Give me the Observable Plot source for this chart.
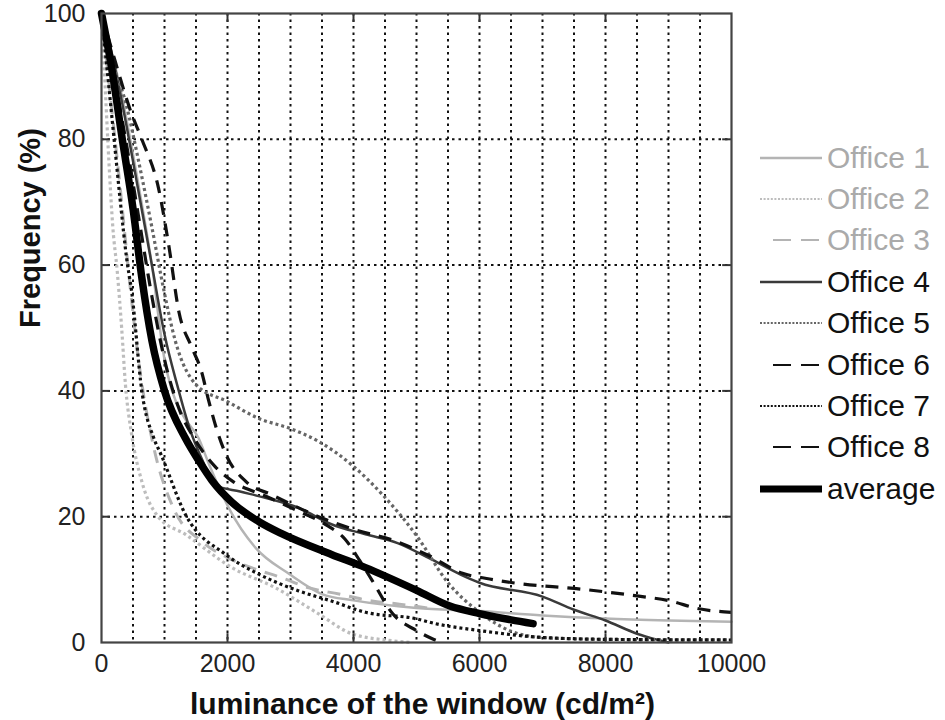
<!DOCTYPE html>
<html>
<head>
<meta charset="utf-8">
<script src="https://cdn.jsdelivr.net/npm/d3@7"></script>
<script src="https://cdn.jsdelivr.net/npm/@observablehq/plot@0.6"></script>
<style>
  html, body { margin: 0; padding: 0; background: #fff; }
  #wrap { position: relative; width: 945px; height: 720px; font-family: "Liberation Sans", Arial, Helvetica, sans-serif; }
  #chart svg { overflow: visible; }
  #legend { position: absolute; left: 758px; top: 137px; }
  .row { display: flex; align-items: center; height: 41.4px; font-size: 30px; }
  .row svg { width: 66px; height: 20px; margin-right: 3px; }
</style>
</head>
<body>
<div id="wrap">
  <div id="chart"></div>
  <div id="legend"></div>
</div>
<script>
// ---- data ----
const seriesNames = ["Office 1","Office 2","Office 3","Office 4","Office 5","Office 6","Office 7","Office 8","average"];

const office1X = [0,300,600,800,1000,1120,1300,1540,1700,1850,2020,2450,2980,3500,4000,5000,6000,7000,8000,9000,10000];
const office1Y = [100,88,72,60,45,40,36,32.5,28.5,25,21.4,15,10.9,7.7,6.7,5.5,5,4.3,3.8,3.5,3.3];

const office2X = [0,60,120,180,250,320,380,480,640,900,1330,2070,2760,3440,3970,4600,4900];
const office2Y = [100,88,76,66,59,50,41,33,25.6,20,17.2,11.9,8.7,4.6,1.4,0.3,0];

const office3X = [0,150,300,450,600,830,1140,1600,2000,2380,2860,3290,3770,4290,4730,5300];
const office3Y = [100,86,72,57,44,31,21.4,16,13.5,11.9,10.3,8.7,7.7,6.6,6.1,5.3];

const office4X = [0,200,400,600,800,1000,1200,1400,1600,1810,2200,2600,3130,3650,4190,4700,5200,5700,6000,7000,7500,8000,8500,8800,9000];
const office4Y = [100,92,82,71,60,49,41,34,29,25,24,23,21.4,18.8,17.2,15.8,13.4,10.8,9.5,7.3,5.2,3.5,1.4,0.5,0];

const office5X = [0,150,380,600,800,990,1170,1500,2000,2500,3000,3440,4000,4460,5000,5500,6000,6500,7000,8000,10000];
const office5Y = [100,93,86,76,66,56,48,41,38.3,35.6,34,32,28,23.5,17,9.5,4.8,1.8,0.8,0.5,0.4];

const office6X = [0,200,400,600,800,1000,1200,1500,1800,2100,2600,3100,3600,3860,4100,4300,4620,5000,5250,5400];
const office6Y = [100,90,79,67,55,45,38,32,28,25.5,23.3,21,18.5,16.5,13,9.8,4.6,1.9,0.6,0];

const office7X = [0,100,200,300,400,480,640,830,940,1330,1970,2490,3130,3650,4190,4980,5300,6000,7000,8000,10000];
const office7Y = [100,90,80,70,61,55.7,40,32.5,30,20.4,14,10.9,8.2,6.6,4.8,3.8,3,1.9,0.8,0.5,0.4];

const office8X = [0,200,480,640,910,1070,1230,1430,1590,1700,1810,1970,2290,2700,3570,4000,4700,5200,5730,6160,6530,7600,8500,9030,9460,10000];
const office8Y = [100,93,84,80,72,63,52.5,47,43,38.5,34.5,30,25.6,23.5,19.5,18,16,13.8,11,10.1,9.5,8.5,7.4,6.6,5.4,4.8];

const averageX = [0,150,330,500,640,800,1000,1330,1550,1750,2070,2500,2860,3650,4190,5000,5530,6000,6500,6850];
const averageY = [100,92,80,69,58,48,40,32.5,28.8,25.8,22.3,19.2,17.3,14,11.9,8.3,5.8,4.6,3.6,3];

const xTicks = [0,2000,4000,6000,8000,10000];
const yTicks = [0,20,40,60,80,100];
const gridX = [500,1000,1500,2000,2500,3000,3500,4000,4500,5000,5500,6000,6500,7000,7500,8000,8500,9000,9500];
const gridY = [20,40,60,80];
const innerX = [2000,4000,6000,8000];
const innerY = [20,40,60,80];

const xTitle = "luminance of the window (cd/m²)";
const yTitle = "Frequency (%)";

// ---- build table ----
const xs = [office1X,office2X,office3X,office4X,office5X,office6X,office7X,office8X,averageX];
const ys = [office1Y,office2Y,office3Y,office4Y,office5Y,office6Y,office7Y,office8Y,averageY];
const rows = [];
seriesNames.forEach((s, i) => xs[i].forEach((x, j) => rows.push({series: s, x, y: ys[i][j]})));

const LIGHT = "#b4b4b4";
const DOT = "3,3";
const DASH = "13,9";
const styles = {
  "Office 1": {stroke: LIGHT, strokeWidth: 2.5, dash: null},
  "Office 2": {stroke: "#bdbdbd", strokeWidth: 3.2, dash: DOT},
  "Office 3": {stroke: LIGHT, strokeWidth: 3, dash: DASH},
  "Office 4": {stroke: "#3a3a3a", strokeWidth: 2.5, dash: null},
  "Office 5": {stroke: "#666", strokeWidth: 3.2, dash: DOT},
  "Office 6": {stroke: "#111", strokeWidth: 3.2, dash: DASH},
  "Office 7": {stroke: "#111", strokeWidth: 3.2, dash: DOT},
  "Office 8": {stroke: "#111", strokeWidth: 3.2, dash: DASH},
  "average":  {stroke: "#000", strokeWidth: 7.5, dash: null}
};

const lineMarks = seriesNames.map(s => Plot.line(rows.filter(r => r.series === s), {
  x: "x", y: "y", curve: "monotone-x",
  stroke: styles[s].stroke, strokeWidth: styles[s].strokeWidth,
  strokeDasharray: styles[s].dash || undefined, strokeLinejoin: "round", strokeLinecap: styles[s].dash ? "butt" : "round"
}));

const gridStyle = {stroke: "#111", strokeWidth: 2, strokeDasharray: "2.5,4"};
const tickStyle = {stroke: "#333", strokeWidth: 2};

const chart = Plot.plot({
  width: 945,
  height: 720,
  marginLeft: 101,
  marginRight: 214,
  marginTop: 13,
  marginBottom: 78,
  style: {fontFamily: '"Liberation Sans", Arial, Helvetica, sans-serif', fontSize: "25px", color: "#222", background: "#fff", overflow: "visible"},
  x: {domain: [0, 10000], label: null},
  y: {domain: [0, 100], label: null},
  marks: [
    Plot.ruleX(gridX, gridStyle),
    Plot.ruleY(gridY, gridStyle),
    ...lineMarks,
    Plot.ruleX(innerX, {...tickStyle, y1: 0, y2: 1.4}),
    Plot.ruleX(innerX, {...tickStyle, y1: 98.6, y2: 100}),
    Plot.ruleY(innerY, {...tickStyle, x1: 0, x2: 140}),
    Plot.ruleY(innerY, {...tickStyle, x1: 9860, x2: 10000}),
    Plot.frame({stroke: "#444", strokeWidth: 2.2}),
    Plot.axisX({ticks: xTicks, tickSize: 0, tickPadding: 12, fontSize: 25, tickFormat: d => String(d), label: null}),
    Plot.axisY({ticks: yTicks, tickSize: 0, tickPadding: 16, fontSize: 25, tickFormat: d => String(d), label: null}),
    Plot.text([xTitle], {frameAnchor: "bottom", text: d => d, dy: 62, dx: 6, fontSize: 30, fontWeight: "bold", fill: "#111", lineAnchor: "middle"}),
    Plot.text([yTitle], {frameAnchor: "left", text: d => d, dx: -71, rotate: -90, fontSize: 29, fontWeight: "bold", fill: "#111", lineAnchor: "middle"})
  ]
});
document.getElementById("chart").appendChild(chart);

// ---- legend ----
const legend = d3.select("#legend");
seriesNames.forEach((s, i) => {
  const st = styles[s];
  const row = legend.append("div").attr("class", "row");
  const svg = row.append("svg");
  const dashed = st.dash === DASH;
  svg.append("line")
    .attr("x1", dashed ? 15 : 2).attr("x2", 64).attr("y1", 10).attr("y2", 10)
    .attr("stroke", st.stroke)
    .attr("stroke-width", s === "average" ? 7 : (st.dash ? 2.2 : 2.5))
    .attr("stroke-dasharray", dashed ? "18,10" : (st.dash ? "2,1.6" : null));
  row.append("span").text(s).style("color", i < 3 ? "#aaa" : "#111");
});
</script>
</body>
</html>
